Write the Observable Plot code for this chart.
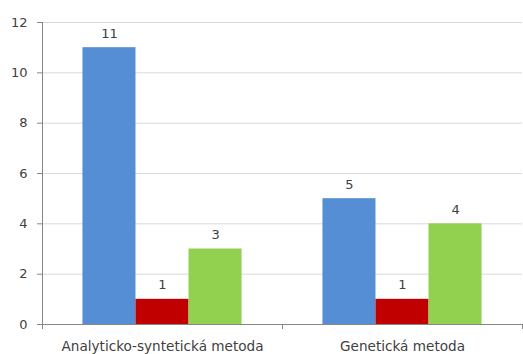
<!DOCTYPE html>
<html>
<head>
<meta charset="utf-8">
<script src="https://cdn.jsdelivr.net/npm/d3@7"></script>
<script src="https://cdn.jsdelivr.net/npm/@observablehq/plot@0.6"></script>
<style>
  html, body { margin: 0; padding: 0; background: #fff; }
  #chart svg { display: block; }
</style>
</head>
<body>
<div id="chart"></div>
<script>
// Teaching methods compared across three result groups
const categories = ["Analyticko-syntetická metoda", "Genetická metoda"];
const seriesNames = ["řada 1", "řada 2", "řada 3"];
const seriesColors = ["#558ED5", "#C00000", "#92D050"];
const series1 = [11, 5];
const series2 = [1, 1];
const series3 = [3, 4];
const yTicks = [0, 2, 4, 6, 8, 10, 12];

const seriesValues = [series1, series2, series3];
const barWidth = 0.221; // share of one category slot taken by each bar

const rows = [];
categories.forEach((cat, ci) => {
  seriesValues.forEach((vals, si) => {
    const x1 = ci + (si - 1.5) * barWidth;
    rows.push({
      category: cat,
      series: seriesNames[si],
      color: seriesColors[si],
      value: vals[ci],
      x1,
      x2: x1 + barWidth,
      xm: x1 + barWidth / 2
    });
  });
});

const axisGray = "#868686";
const textColor = "#404040";

const chart = Plot.plot({
  width: 523,
  height: 354,
  marginLeft: 42,
  marginRight: 1,
  marginTop: 22,
  marginBottom: 30,
  style: { fontFamily: "DejaVu Sans", fontSize: "13px", color: textColor, background: "#fff" },
  x: { type: "linear", domain: [-0.5, categories.length - 0.5] },
  y: { domain: [0, 12] },
  marks: [
    Plot.gridY(yTicks.filter(d => d > 0), { stroke: "#d9d9d9", strokeOpacity: 1 }),
    Plot.rectY(rows, { x1: "x1", x2: "x2", y: "value", fill: "color" }),
    Plot.ruleY([0], { stroke: axisGray }),
    Plot.ruleX([-0.5], { y1: 0, y2: 12, stroke: axisGray }),
    Plot.axisY({ ticks: yTicks, tickSize: 5, tickPadding: 10, stroke: axisGray, fill: textColor, fontSize: 13, label: null }),
    Plot.axisX({
      ticks: d3.range(categories.length + 1).map(i => i - 0.5),
      tickSize: 5,
      tickFormat: () => "",
      stroke: axisGray,
      label: null
    }),
    Plot.axisX({
      ticks: d3.range(categories.length),
      tickSize: 0,
      tickPadding: 17,
      tickFormat: i => categories[i],
      fill: textColor,
      fontSize: 13.6,
      label: null
    }),
    Plot.text(rows, {
      x: "xm",
      y: "value",
      text: d => String(d.value),
      dy: -10,
      lineAnchor: "bottom",
      fill: textColor,
      fontSize: 13
    })
  ]
});

document.getElementById("chart").append(chart);
</script>
</body>
</html>
